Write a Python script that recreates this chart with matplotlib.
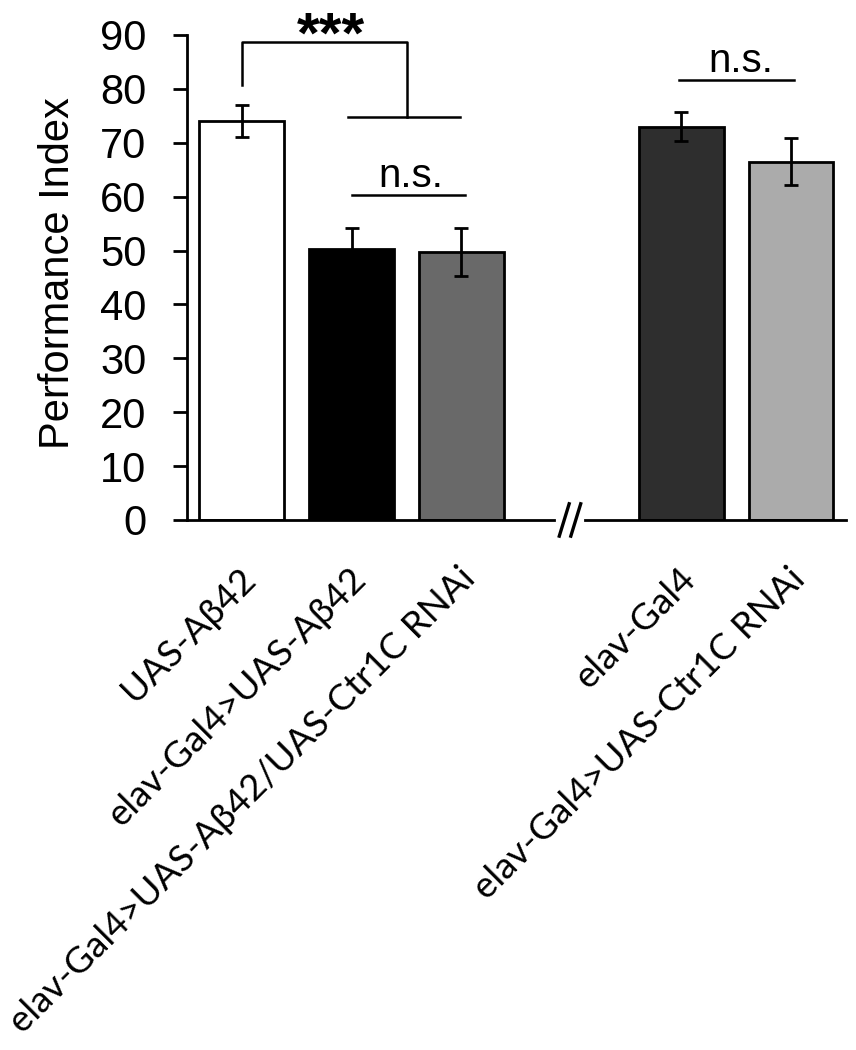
import matplotlib
matplotlib.use("Agg")
import matplotlib.pyplot as plt
from matplotlib.transforms import ScaledTranslation

# ---- data ----
categories = ["UAS-Aβ42", "elav-Gal4>UAS-Aβ42", "elav-Gal4>UAS-Aβ42/UAS-Ctr1C RNAi",
              "elav-Gal4", "elav-Gal4>UAS-Ctr1C RNAi"]
positions = [0, 1, 2, 4, 5]
values = [74.0, 50.2, 49.7, 73.0, 66.5]
errors = [3.0, 4.0, 4.5, 2.7, 4.4]
colors = ["#ffffff", "#000000", "#696969", "#2e2e2e", "#ababab"]
yticks = [0, 10, 20, 30, 40, 50, 60, 70, 80, 90]

fig = plt.figure(figsize=(8.56, 10.5), dpi=100)
ax = fig.add_axes([0.2179, 0.5048, 0.7704, 0.4619])

lw = 2.0
ax.bar(positions, values, width=0.77, color=colors, edgecolor="black", linewidth=lw, zorder=2)
ax.errorbar(positions, values, yerr=errors, fmt="none", ecolor="black", elinewidth=lw,
            capsize=5, capthick=lw, zorder=3)

ax.set_xlim(-0.502, 5.499)
ax.set_ylim(0, 90)
ax.set_yticks(yticks)

for s in ["top", "right", "bottom"]:
    ax.spines[s].set_visible(False)
ax.spines["left"].set_linewidth(lw)

# broken x axis
ax.plot([-0.502, 2.842], [0, 0], color="black", lw=lw, clip_on=False, zorder=4)
ax.plot([3.127, 5.499], [0, 0], color="black", lw=lw, clip_on=False, zorder=4)
ax.plot([2.89, 2.98], [-3.0, 3.0], color="black", lw=2.4, clip_on=False, zorder=4)
ax.plot([2.995, 3.085], [-3.0, 3.0], color="black", lw=2.4, clip_on=False, zorder=4)

ax.tick_params(axis="y", direction="out", length=10, width=lw, labelsize=30, pad=19)
ax.tick_params(axis="x", length=0, pad=30)
for lab in ax.get_yticklabels():
    lab.set_fontfamily("Liberation Sans")

ax.set_xticks(positions)
ax.set_xticklabels(categories, rotation=45, ha="right", va="top", rotation_mode="anchor",
                   fontsize=26.5, fontfamily="Lato")
for lab in ax.get_xticklabels():
    lab.set_transform(lab.get_transform() + ScaledTranslation(-0.03, 0, fig.dpi_scale_trans))

ax.set_ylabel("Performance Index", fontsize=30, fontfamily="Liberation Sans")
ax.yaxis.set_label_coords(-0.165, 0.51)

# significance annotations
slw = 1.8
ax.plot([0, 0, 1.50, 1.50], [80.8, 88.75, 88.75, 74.8], color="black", lw=slw, clip_on=False)
ax.plot([0.97, 1.99], [74.8, 74.8], color="black", lw=slw, clip_on=False)
ax.text(0.81, 86.7, "***", ha="center", va="baseline", fontsize=42, fontweight="bold",
        fontfamily="Liberation Sans", clip_on=False)

ax.plot([1.0, 2.03], [60.3, 60.3], color="black", lw=slw)
ax.text(1.54, 61.7, "n.s.", ha="center", va="baseline", fontsize=29, fontfamily="Liberation Sans")
ax.plot([3.98, 5.03], [81.6, 81.6], color="black", lw=slw, clip_on=False)
ax.text(4.54, 83.1, "n.s.", ha="center", va="baseline", fontsize=29, fontfamily="Liberation Sans",
        clip_on=False)

fig.savefig("out.png", dpi=100)
